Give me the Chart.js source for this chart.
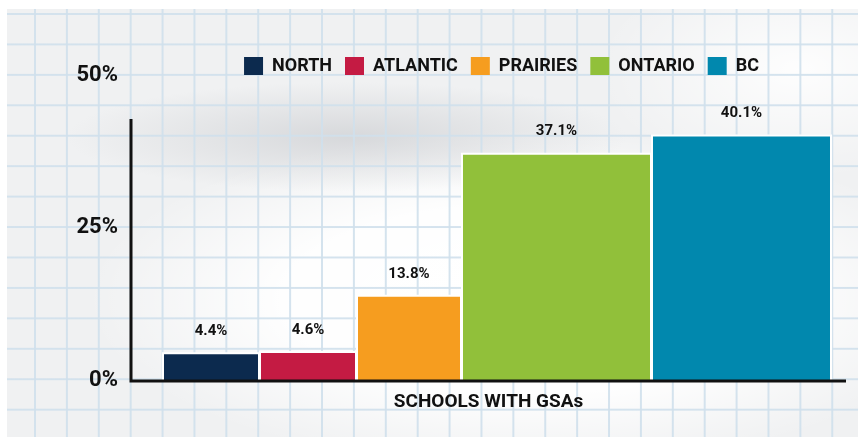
<!DOCTYPE html>
<html>
<head>
<meta charset="utf-8">
<title>Schools with GSAs</title>
<script src="https://cdn.jsdelivr.net/npm/chart.js@4.4.1/dist/chart.umd.min.js"></script>
<style>
  html, body { margin: 0; padding: 0; background: #fff; }
  #wrap { position: relative; width: 858px; height: 438px; overflow: hidden; }
  /* graph paper behind the chart */
  #paper {
    position: absolute; left: 7px; top: 9px; right: 0; bottom: 1px;
    background:
      linear-gradient(to right, rgba(208,224,236,.9) 0, rgba(208,224,236,.9) 1.6px, transparent 1.6px) 27px 0 / 31.9px 100%,
      linear-gradient(to bottom, rgba(208,224,236,.9) 0, rgba(208,224,236,.9) 1.6px, transparent 1.6px) 0 4px / 100% 30.45px,
      radial-gradient(ellipse 280px 55px at 340px 128px, rgba(198,200,204,.6), rgba(198,200,204,0)),
      radial-gradient(ellipse 440px 170px at 520px 290px, #fff 0%, rgba(255,255,255,.95) 55%, rgba(255,255,255,0) 100%),
      radial-gradient(ellipse 200px 110px at 790px 60px, rgba(255,255,255,.9), rgba(255,255,255,0)),
      #f0f1f2;
  }
  #chart { position: absolute; left: 0; top: 0; }
</style>
</head>
<body>
<div id="wrap">
  <div id="paper"></div>
  <canvas id="chart" width="858" height="438"></canvas>
</div>
<script>
// share of schools with a GSA, by region
const regions = ['NORTH', 'ATLANTIC', 'PRAIRIES', 'ONTARIO', 'BC'];
const gsaShare = [4.4, 4.6, 13.8, 37.1, 40.1];
const yTicks = [0, 25, 50];
const xTitle = 'SCHOOLS WITH GSAs';

// look
const colors = ['#0c2a4e', '#c41b43', '#f69d1f', '#91c03a', '#0188ae'];
const HAND = 'Roboto, "Liberation Sans", sans-serif';
const INK = '#111';

// column layout along the x axis (axis units)
const X_MAX = 715;
const COLUMN_OFFSET = 32;
const COLUMN_GAP = 1;
const COLUMN_WIDTHS = [96, 96, 104, 189, 179];
const AXIS_TOP = 42.8; // where the drawn y axis line stops
const LEGEND_NUDGE = { x: 13, y: 10 }; // legend sits a little off its layout box

let cursor = COLUMN_OFFSET;
const columns = COLUMN_WIDTHS.map((w) => {
  const c = [cursor, cursor + w];
  cursor += w + COLUMN_GAP;
  return c;
});

// hand drawn style axis lines: short y axis, baseline under the bars
const axisLines = {
  id: 'axisLines',
  afterDatasetsDraw(chart) {
    const { ctx, chartArea, scales: { y } } = chart;
    const base = y.getPixelForValue(0) + 1;
    ctx.save();
    ctx.strokeStyle = INK;
    ctx.lineWidth = 3;
    ctx.beginPath();
    ctx.moveTo(chartArea.left, y.getPixelForValue(AXIS_TOP));
    ctx.lineTo(chartArea.left, base + 1.5);
    ctx.moveTo(chartArea.left, base);
    ctx.lineTo(chartArea.right, base);
    ctx.stroke();
    ctx.restore();
  },
};

// value above each column
const valueLabels = {
  id: 'valueLabels',
  afterDatasetsDraw(chart) {
    const { ctx, scales: { x, y } } = chart;
    ctx.save();
    ctx.font = `bold 15px ${HAND}`;
    ctx.fillStyle = INK;
    ctx.textAlign = 'center';
    ctx.textBaseline = 'middle';
    gsaShare.forEach((v, i) => {
      const [x0, x1] = columns[i];
      ctx.fillText(`${v.toFixed(1)}%`, x.getPixelForValue((x0 + x1) / 2), y.getPixelForValue(v) - 22);
    });
    ctx.restore();
  },
};

const legendNudge = {
  id: 'legendNudge',
  afterLayout(chart) {
    const l = chart.legend;
    l.top += LEGEND_NUDGE.y;
    l.bottom += LEGEND_NUDGE.y;
    l.left += LEGEND_NUDGE.x;
    l.right += LEGEND_NUDGE.x;
  },
};

const chart = new Chart(document.getElementById('chart').getContext('2d'), {
  type: 'line',
  data: {
    datasets: regions.map((name, i) => {
      const [x0, x1] = columns[i];
      const v = gsaShare[i];
      return {
        label: name,
        data: [{ x: x0, y: 0 }, { x: x0, y: v }, { x: x1, y: v }, { x: x1, y: 0 }],
        backgroundColor: colors[i],
        borderColor: '#fff',
        borderWidth: 2,
        fill: 'origin',
        pointRadius: 0,
        tension: 0,
      };
    }),
  },
  options: {
    responsive: false,
    animation: false,
    events: [],
    layout: { padding: { top: 34, right: 12, bottom: 0, left: 0 } },
    plugins: {
      tooltip: { enabled: false },
      legend: {
        position: 'top',
        fullSize: false,
        align: 'center',
        labels: {
          boxWidth: 19,
          boxHeight: 18,
          padding: 13,
          color: INK,
          font: { family: HAND, size: 18, weight: 'bold' },
          generateLabels(c) {
            return Chart.defaults.plugins.legend.labels.generateLabels(c)
              .map((l) => ({ ...l, lineWidth: 0, strokeStyle: l.fillStyle }));
          },
        },
      },
    },
    scales: {
      x: {
        type: 'linear',
        min: 0,
        max: X_MAX,
        ticks: { display: false },
        grid: { display: false, drawTicks: false },
        border: { display: false },
        title: {
          display: true,
          text: xTitle,
          color: INK,
          font: { family: HAND, size: 19, weight: 'bold' },
          padding: { top: 0, bottom: 24 },
        },
        afterFit(scale) { scale.height = 58; },
      },
      y: {
        min: 0,
        max: 50,
        afterBuildTicks(scale) { scale.ticks = yTicks.map((v) => ({ value: v })); },
        ticks: {
          padding: 13,
          color: INK,
          font: { family: HAND, size: 22, weight: 'bold' },
          callback: (v) => `${v}%`,
        },
        grid: { display: false, drawTicks: false },
        border: { display: false },
        afterFit(scale) { scale.width = 131; },
      },
    },
  },
  plugins: [axisLines, valueLabels, legendNudge],
});
</script>
</body>
</html>
